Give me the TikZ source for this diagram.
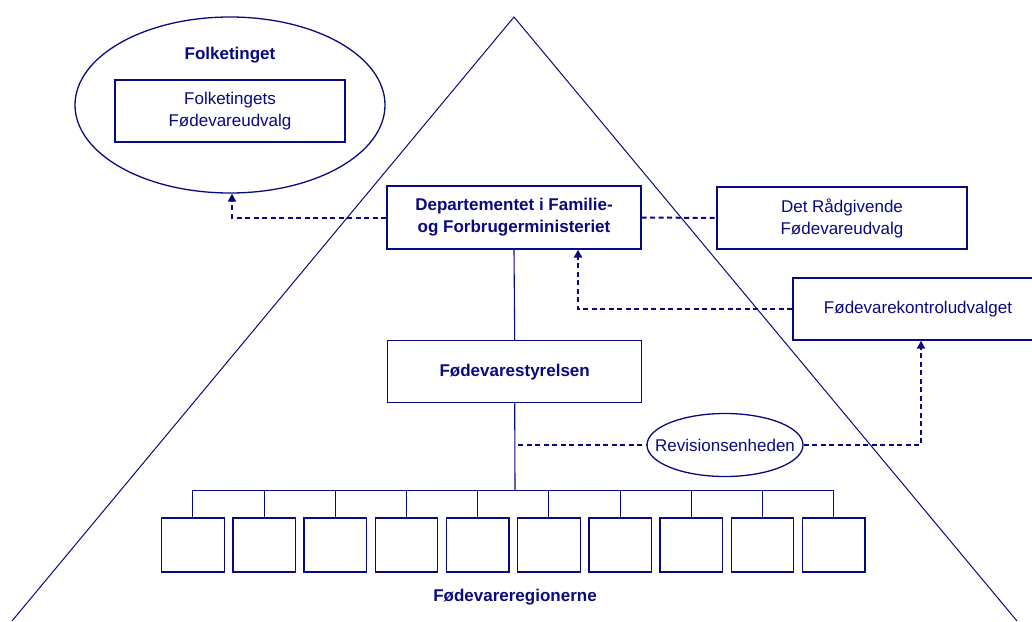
\documentclass[tikz,border=0pt]{standalone}
\usepackage{fontspec}
\setmainfont{Liberation Sans}
\usetikzlibrary{arrows.meta,shapes.geometric}
\definecolor{navy}{RGB}{10,10,128}
\tikzset{
  box/.style={draw=navy,line width=1.3pt,rectangle,inner sep=0pt,align=center,text=navy,font=\fontsize{17}{22}\selectfont},
  bbox/.style={box,font=\fontsize{17}{22}\selectfont\bfseries},
  oval/.style={draw=navy,line width=1.3pt,ellipse,inner sep=0pt},
  regbox/.style={draw=navy,line width=1.3pt,rectangle,inner sep=0pt,minimum width=62.5pt,minimum height=54pt},
  dashline/.style={draw=navy,line width=2pt,dash pattern=on 5pt off 3.5pt},
  solidline/.style={draw=navy,line width=1.1pt},
  arr/.style={-{Triangle[length=8pt,width=8pt]}},
  lbl/.style={text=navy,inner sep=0pt,font=\fontsize{17}{22}\selectfont\bfseries},
  plainlbl/.style={text=navy,inner sep=0pt,font=\fontsize{17}{22}\selectfont}
}
\begin{document}
\begin{tikzpicture}[x=1pt,y=-1pt]
\useasboundingbox (0,0) rectangle (1032,621);
\clip (0,0) rectangle (1032,621);
\fill[white] (0,0) rectangle (1032,621);
% pyramid
\draw[navy,line width=1pt] (12,621) -- (514,17) -- (1017,621);
% Folketinget
\node[oval,minimum width=310pt,minimum height=176pt] (folk) at (230,105) {};
\node[lbl] (folktitle) at (230,55) {Folketinget};
\node[box,minimum width=230pt,minimum height=62pt] (folkudv) at (230,111) {Folketingets\\Fødevareudvalg};
% main boxes
\node[bbox,minimum width=254pt,minimum height=63pt] (dep) at (514,217.5) {Departementet i Familie-\\og Forbrugerministeriet};
\node[box,minimum width=250pt,minimum height=62pt] (rad) at (842,218) {Det Rådgivende\\Fødevareudvalg};
\node[box,minimum width=250pt,minimum height=62pt] (kon) at (918,309) {Fødevarekontroludvalget};
\node[bbox,minimum width=254pt,minimum height=62pt] (sty) at (514.7,371.7) {Fødevarestyrelsen};
\node[oval,minimum width=156pt,minimum height=63pt] (rev) at (725,445) {};
\node[plainlbl] (revtxt) at (725,445) {Revisionsenheden};
% regions
\foreach \i in {0,...,9}{
  \node[regbox] (r\i) at ({192.9+71.2*\i},545) {};
}
\node[lbl] (regtxt) at (515,597) {Fødevareregionerne};
% connectors
\draw[dashline,arr] (dep.west) -| ([xshift=2pt]folk.south);
\draw[dashline] (dep.east) -- (rad.west);
\draw[dashline,arr] (kon.west) -| ([xshift=64pt]dep.south);
\draw[solidline] (dep.south) -- (sty.north);
\coordinate (bus) at (515,490.5);
\coordinate (revstart) at (515,445);
\draw[solidline] (sty.south) -- (bus);
\draw[solidline] (r0.north) |- (bus) -| (r9.north);
\foreach \i in {1,...,8}{
  \draw[solidline] (r\i.north) -- (r\i.north |- bus);
}
\draw[dashline] ([xshift=3pt]revstart) -- (rev.west);
\draw[dashline,arr] (rev.east) -| ([xshift=3pt]kon.south);
\end{tikzpicture}
\end{document}
